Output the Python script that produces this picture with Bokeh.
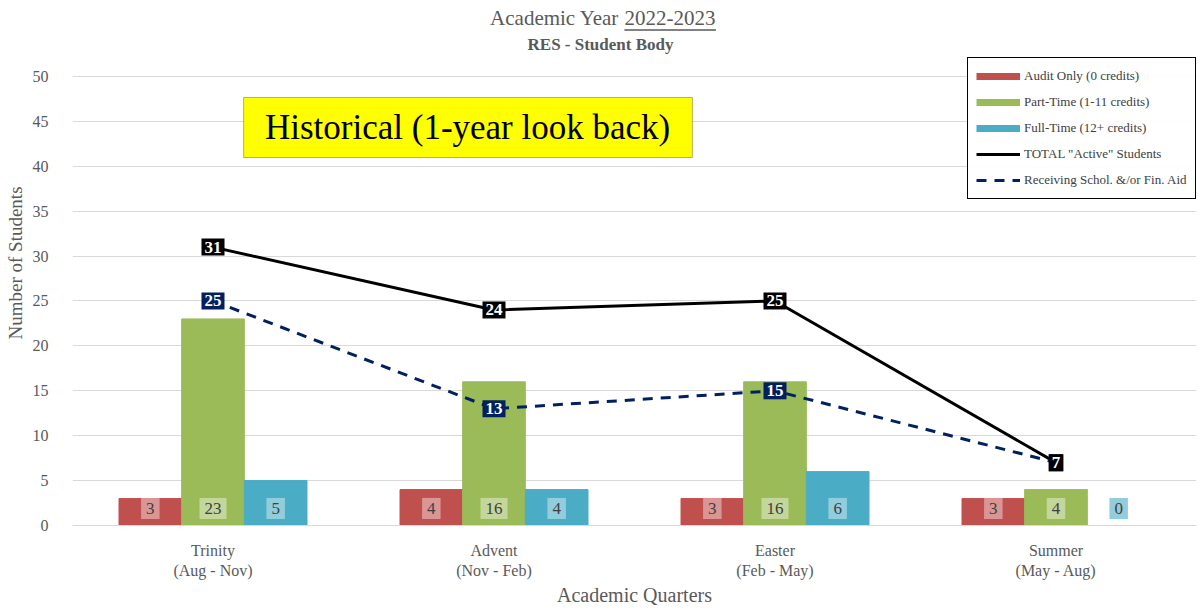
from bokeh.plotting import figure
from bokeh.models import (ColumnDataSource, Range1d, FixedTicker, Legend, LegendItem,
                          Label, BoxAnnotation)
from bokeh.core.properties import value
from bokeh.transform import dodge
from bokeh.embed import file_html
from bokeh.resources import INLINE

quarters = ["Trinity\n(Aug - Nov)", "Advent\n(Nov - Feb)", "Easter\n(Feb - May)", "Summer\n(May - Aug)"]
audit = [3, 4, 3, 3]
part_time = [23, 16, 16, 4]
full_time = [5, 4, 6, 0]
total_active = [31, 24, 25, 7]
aid = [25, 13, 15, 7]
y_ticks = list(range(0, 51, 5))

FONT = "Liberation Serif"
GRAY = "#595959"
RED, GREEN, BLUE = "#C0504D", "#9BBB59", "#4BACC6"
RED_L, GREEN_L, BLUE_L = "#D99694", "#C3D69B", "#92CDDC"
NAVY = "#002060"

xc = [i + 0.5 for i in range(len(quarters))]
src = ColumnDataSource(dict(
    x=xc, audit=audit, part=part_time, full=full_time, total=total_active, aid=aid,
    audit_s=[str(v) for v in audit], part_s=[str(v) for v in part_time],
    full_s=[str(v) for v in full_time], total_s=[str(v) for v in total_active],
    aid_s=[str(v) for v in aid], lab_y=[1.9] * len(quarters),
))

p = figure(width=1198, height=612, output_backend="svg", toolbar_location=None,
           x_range=Range1d(0, 4), y_range=Range1d(0, 58.46),
           min_border_left=72, min_border_top=0, min_border_bottom=87, min_border_right=2)
p.outline_line_color = None
p.background_fill_color = "white"

# axes
p.yaxis.ticker = FixedTicker(ticks=y_ticks)
p.yaxis.axis_line_color = None
p.yaxis.major_tick_line_color = None
p.yaxis.minor_tick_line_color = None
p.yaxis.major_label_text_font = FONT
p.yaxis.major_label_text_font_size = "16px"
p.yaxis.major_label_text_color = GRAY
p.yaxis.major_label_standoff = 18
p.yaxis.axis_label = "Number of Students"
p.yaxis.axis_label_text_font = FONT
p.yaxis.axis_label_text_font_size = "19px"
p.yaxis.axis_label_text_font_style = "normal"
p.yaxis.axis_label_text_color = GRAY
p.yaxis.axis_label_standoff = 4

p.xaxis.ticker = FixedTicker(ticks=xc)
p.xaxis.major_label_overrides = {x: q for x, q in zip(xc, quarters)}
p.xaxis.axis_line_color = "#D9D9D9"
p.xaxis.major_tick_line_color = None
p.xaxis.minor_tick_line_color = None
p.xaxis.major_label_text_font = FONT
p.xaxis.major_label_text_font_size = "16px"
p.xaxis.major_label_text_color = GRAY
p.xaxis.major_label_standoff = 10
p.xaxis.axis_label = "Academic Quarters"
p.xaxis.axis_label_text_font = FONT
p.xaxis.axis_label_text_font_size = "20px"
p.xaxis.axis_label_text_font_style = "normal"
p.xaxis.axis_label_text_color = GRAY
p.xaxis.axis_label_standoff = 2

p.xgrid.grid_line_color = None
p.ygrid.grid_line_color = "#D9D9D9"
p.ygrid.ticker = FixedTicker(ticks=y_ticks)

# yellow box
p.add_layout(BoxAnnotation(left=0.609, right=2.206, bottom=40.98, top=47.66,
                           fill_color="#FFFF00", fill_alpha=1, line_color="black", line_width=1))
p.add_layout(Label(x=1.406, y=44.32, text="Historical (1-year look back)", text_align="center",
                   text_baseline="middle", text_font=FONT, text_font_size="35px", text_color="black"))

# bars
W = 0.223
p.vbar(x=dodge("x", -W), top="audit", width=W, source=src, fill_color=RED, line_color=RED)
p.vbar(x=dodge("x", 0), top="part", width=W, source=src, fill_color=GREEN, line_color=GREEN)
p.vbar(x=dodge("x", W), top="full", width=W, source=src, fill_color=BLUE, line_color=BLUE)

for off, col, bg in [(-W, "audit_s", RED_L), (0, "part_s", GREEN_L), (W, "full_s", BLUE_L)]:
    p.text(x=dodge("x", off), y="lab_y", text=col, source=src,
           text_align="center", text_baseline="middle", text_font=value(FONT),
           text_font_size="17px", text_color="#404040",
           background_fill_color=bg, background_fill_alpha=1.0, padding=5)

# lines
r_total = p.line("x", "total", source=src, line_color="black", line_width=3)
r_aid = p.line("x", "aid", source=src, line_color=NAVY, line_width=3, line_dash="10 8")

p.text(x="x", y="aid", text="aid_s", source=src, text_align="center",
       text_baseline="middle", text_font=value(FONT), text_font_size="17px",
       text_font_style="bold", text_color="white",
       background_fill_color=NAVY, background_fill_alpha=1.0, padding=3)
p.text(x="x", y="total", text="total_s", source=src, text_align="center",
       text_baseline="middle", text_font=value(FONT), text_font_size="17px",
       text_font_style="bold", text_color="white",
       background_fill_color="black", background_fill_alpha=1.0, padding=3)

# legend swatches (drawn outside the visible range, used only for the legend)
off_x = [-10, -9]
off_y = [-10, -10]
lr = p.line(x=off_x, y=off_y, line_color=RED, line_width=7)
lg = p.line(x=off_x, y=off_y, line_color=GREEN, line_width=7)
lb = p.line(x=off_x, y=off_y, line_color=BLUE, line_width=7)

legend = Legend(items=[
    LegendItem(label="Audit Only (0 credits)", renderers=[lr]),
    LegendItem(label="Part-Time (1-11 credits)", renderers=[lg]),
    LegendItem(label="Full-Time (12+ credits)", renderers=[lb]),
    LegendItem(label='TOTAL "Active" Students', renderers=[r_total]),
    LegendItem(label="Receiving Schol. &/or Fin. Aid", renderers=[r_aid]),
], location=(895, 326))
legend.label_text_font = FONT
legend.label_text_font_size = "13px"
legend.label_text_color = "#404040"
legend.border_line_color = "black"
legend.border_line_width = 1
legend.border_line_alpha = 1
legend.glyph_width = 44
legend.glyph_height = 20
legend.spacing = 6
legend.padding = 8
legend.margin = 0
legend.label_standoff = 4
p.add_layout(legend)

# titles
p.add_layout(Label(x=1.964, y=56.46, text="Academic Year ", text_align="right", text_baseline="middle",
                   text_font=FONT, text_font_size="21px", text_color=GRAY))
p.add_layout(Label(x=1.964, y=56.46, text="2022-2023", text_align="left", text_baseline="middle",
                   text_font=FONT, text_font_size="21px", text_color=GRAY))
p.add_layout(BoxAnnotation(left=1.964, right=2.29, bottom=55.1, top=55.25,
                           fill_color=GRAY, fill_alpha=1, line_color=None))
p.add_layout(Label(x=1.879, y=53.56, text="RES - Student Body", text_align="center", text_baseline="middle",
                   text_font=FONT, text_font_size="17px", text_font_style="bold", text_color=GRAY))

open("out.html", "w").write(file_html(p, INLINE))
